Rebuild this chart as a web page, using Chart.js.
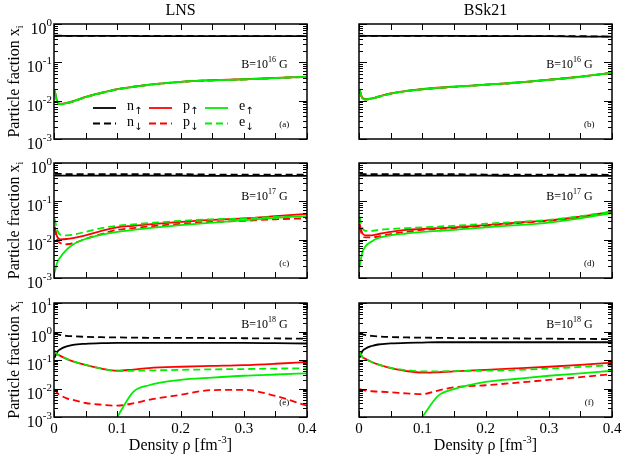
<!DOCTYPE html>
<html>
<head>
<meta charset="utf-8">
<script src="https://cdn.jsdelivr.net/npm/chart.js@4/dist/chart.umd.min.js"></script>
<style>
html, body { margin: 0; padding: 0; background: #fff; }
#wrap { position: relative; width: 623px; height: 461px; }
#wrap canvas { position: absolute; left: 0; top: 0; }
</style>
</head>
<body>
<div id="wrap">
<canvas id="pa" width="623" height="461"></canvas>
<canvas id="pb" width="623" height="461"></canvas>
<canvas id="pc" width="623" height="461"></canvas>
<canvas id="pd" width="623" height="461"></canvas>
<canvas id="pe" width="623" height="461"></canvas>
<canvas id="pf" width="623" height="461"></canvas>
</div>
<script>
// density grid, fm^-3
const rho = [0.001, 0.005, 0.01, 0.02, 0.03, 0.05, 0.075, 0.1, 0.125, 0.15, 0.2, 0.25, 0.3, 0.35, 0.4];

// (a) LNS, B = 1e16 G
const lns16nUp = [0.49, 0.49, 0.49, 0.49, 0.49, 0.49, 0.49, 0.49, 0.49, 0.48, 0.48, 0.48, 0.48, 0.48, 0.48];
const lns16nDn = [0.50, 0.50, 0.50, 0.49, 0.49, 0.49, 0.49, 0.49, 0.49, 0.49, 0.49, 0.48, 0.48, 0.48, 0.48];
const lns16pUp = [0.018, 0.0098, 0.0083, 0.0088, 0.0097, 0.0126, 0.0161, 0.0199, 0.0231, 0.0261, 0.0311, 0.0341, 0.0362, 0.0392, 0.0422];
const lns16pDn = [0.018, 0.0096, 0.0081, 0.0086, 0.0095, 0.0123, 0.0158, 0.0196, 0.0228, 0.0258, 0.0308, 0.0338, 0.0358, 0.0388, 0.0418];
const lns16eUp = [0.017, 0.0094, 0.0080, 0.0086, 0.0095, 0.0124, 0.0159, 0.0197, 0.0229, 0.0259, 0.0309, 0.0339, 0.0359, 0.0389, 0.0419];
const lns16eDn = [0.019, 0.0097, 0.0082, 0.0087, 0.0096, 0.0124, 0.0159, 0.0197, 0.0229, 0.0259, 0.0309, 0.0339, 0.0359, 0.0389, 0.0419];

// (b) BSk21, B = 1e16 G
const bsk16nUp = [0.49, 0.49, 0.49, 0.49, 0.49, 0.49, 0.49, 0.49, 0.49, 0.49, 0.48, 0.48, 0.48, 0.47, 0.47];
const bsk16nDn = [0.50, 0.50, 0.49, 0.49, 0.49, 0.49, 0.49, 0.49, 0.49, 0.49, 0.49, 0.48, 0.48, 0.48, 0.47];
const bsk16pUp = [0.019, 0.0120, 0.0110, 0.0115, 0.0127, 0.0154, 0.0180, 0.0200, 0.0217, 0.0232, 0.0262, 0.0298, 0.0353, 0.0424, 0.0535];
const bsk16pDn = [0.019, 0.0117, 0.0107, 0.0112, 0.0124, 0.0151, 0.0177, 0.0197, 0.0214, 0.0229, 0.0259, 0.0294, 0.0349, 0.0420, 0.0530];
const bsk16eUp = [0.018, 0.0116, 0.0107, 0.0113, 0.0125, 0.0152, 0.0178, 0.0198, 0.0215, 0.0230, 0.0260, 0.0295, 0.0350, 0.0420, 0.0530];
const bsk16eDn = [0.020, 0.0119, 0.0108, 0.0113, 0.0125, 0.0152, 0.0178, 0.0198, 0.0215, 0.0230, 0.0260, 0.0295, 0.0350, 0.0420, 0.0530];

// (c) LNS, B = 1e17 G
const lns17nUp = [0.47, 0.47, 0.47, 0.47, 0.47, 0.47, 0.47, 0.47, 0.47, 0.47, 0.47, 0.46, 0.46, 0.46, 0.46];
const lns17nDn = [0.52, 0.52, 0.52, 0.51, 0.51, 0.51, 0.51, 0.51, 0.51, 0.51, 0.51, 0.50, 0.50, 0.50, 0.50];
const lns17pUp = [0.022, 0.012, 0.0102, 0.0104, 0.011, 0.013, 0.017, 0.021, 0.023, 0.025, 0.029, 0.033, 0.036, 0.041, 0.047];
const lns17pDn = [0.020, 0.010, 0.0082, 0.0076, 0.008, 0.0105, 0.014, 0.018, 0.020, 0.022, 0.026, 0.029, 0.031, 0.034, 0.036];
const lns17eUp = [0.0014, 0.0025, 0.0035, 0.0055, 0.0075, 0.0105, 0.0135, 0.016, 0.018, 0.020, 0.024, 0.028, 0.032, 0.037, 0.041];
const lns17eDn = [0.035, 0.018, 0.0135, 0.013, 0.0135, 0.016, 0.020, 0.023, 0.025, 0.027, 0.031, 0.034, 0.036, 0.039, 0.041];

// (d) BSk21, B = 1e17 G
const bsk17nUp = [0.47, 0.47, 0.47, 0.47, 0.47, 0.47, 0.47, 0.47, 0.47, 0.47, 0.47, 0.46, 0.46, 0.46, 0.46];
const bsk17nDn = [0.52, 0.52, 0.51, 0.51, 0.51, 0.51, 0.51, 0.51, 0.51, 0.51, 0.50, 0.50, 0.50, 0.50, 0.49];
const bsk17pUp = [0.026, 0.015, 0.013, 0.013, 0.014, 0.016, 0.018, 0.019, 0.020, 0.021, 0.024, 0.028, 0.032, 0.040, 0.054];
const bsk17pDn = [0.022, 0.013, 0.0115, 0.0115, 0.012, 0.014, 0.016, 0.018, 0.019, 0.020, 0.023, 0.027, 0.031, 0.039, 0.052];
const bsk17eUp = [0.002, 0.0045, 0.0066, 0.009, 0.011, 0.013, 0.0145, 0.016, 0.017, 0.018, 0.021, 0.024, 0.028, 0.036, 0.049];
const bsk17eDn = [0.040, 0.021, 0.017, 0.017, 0.018, 0.019, 0.020, 0.021, 0.022, 0.023, 0.026, 0.029, 0.033, 0.041, 0.054];

// (e) LNS, B = 1e18 G
const lns18nUp = [0.12, 0.19, 0.24, 0.30, 0.34, 0.37, 0.39, 0.40, 0.40, 0.40, 0.40, 0.40, 0.40, 0.39, 0.38];
const lns18nDn = [0.90, 0.80, 0.75, 0.70, 0.68, 0.65, 0.63, 0.62, 0.61, 0.60, 0.60, 0.59, 0.58, 0.57, 0.56];
const lns18pUp = [0.21, 0.16, 0.14, 0.11, 0.09, 0.067, 0.05, 0.042, 0.046, 0.052, 0.058, 0.062, 0.066, 0.074, 0.085];
const lns18pDn = [0.0095, 0.007, 0.0058, 0.0045, 0.004, 0.0031, 0.0027, 0.0025, 0.003, 0.004, 0.006, 0.0088, 0.009, 0.0055, 0.0025];
const lns18eUp = [null, null, null, null, null, null, null, 0.001, 0.0075, 0.013, 0.020, 0.024, 0.028, 0.031, 0.034];
const lns18eDn = [0.21, 0.16, 0.14, 0.11, 0.09, 0.067, 0.05, 0.041, 0.042, 0.043, 0.045, 0.047, 0.048, 0.050, 0.051];

// (f) BSk21, B = 1e18 G
const bsk18nUp = [0.12, 0.20, 0.25, 0.31, 0.35, 0.38, 0.40, 0.41, 0.42, 0.42, 0.42, 0.42, 0.42, 0.42, 0.42];
const bsk18nDn = [0.90, 0.80, 0.75, 0.70, 0.67, 0.64, 0.62, 0.61, 0.60, 0.59, 0.58, 0.57, 0.56, 0.55, 0.54];
const bsk18pUp = [0.19, 0.13, 0.11, 0.085, 0.07, 0.052, 0.041, 0.036, 0.037, 0.040, 0.045, 0.051, 0.058, 0.068, 0.081];
const bsk18pDn = [0.0095, 0.009, 0.0085, 0.008, 0.0078, 0.0074, 0.0067, 0.0063, 0.0085, 0.011, 0.013, 0.016, 0.020, 0.025, 0.032];
const bsk18eUp = [null, null, null, null, null, null, null, 0.001, 0.0055, 0.0095, 0.017, 0.022, 0.028, 0.034, 0.042];
const bsk18eDn = [0.19, 0.13, 0.11, 0.085, 0.07, 0.053, 0.044, 0.040, 0.040, 0.041, 0.042, 0.045, 0.050, 0.057, 0.067];

// axes
const xTickValues = [0, 0.05, 0.1, 0.15, 0.2, 0.25, 0.3, 0.35, 0.4];
const xLabelValues = [0, 0.1, 0.2, 0.3, 0.4];
const xLabels = ['0', '0.1', '0.2', '0.3', '0.4'];
const decadesLow = [-3, -2, -1, 0];
const decadesHigh = [-3, -2, -1, 0, 1];
const mantissas = [1, 2, 3, 4, 5, 6, 7, 8, 9];

const FONT = '"Liberation Serif", "Times New Roman", serif';
const ARROW_FONT = '"DejaVu Sans", sans-serif';
const BLACK = '#000000', RED = '#ff0000', GREEN = '#00ee00';

function pts(vals) {
    return rho.map((r, i) => ({x: r, y: vals[i]}));
}

// first dataset is drawn on top
function series(nUp, nDn, pUp, pDn, eUp, eDn) {
    return [
        {sp: 'e', spin: '↓', row: 1, col: 2, data: pts(eDn), borderColor: GREEN, borderDash: [7, 4]},
        {sp: 'e', spin: '↑', row: 0, col: 2, data: pts(eUp), borderColor: GREEN},
        {sp: 'p', spin: '↓', row: 1, col: 1, data: pts(pDn), borderColor: RED, borderDash: [7, 4]},
        {sp: 'p', spin: '↑', row: 0, col: 1, data: pts(pUp), borderColor: RED},
        {sp: 'n', spin: '↓', row: 1, col: 0, data: pts(nDn), borderColor: BLACK, borderDash: [7, 4]},
        {sp: 'n', spin: '↑', row: 0, col: 0, data: pts(nUp), borderColor: BLACK},
    ];
}

// draws runs of [text, size, dy, family] starting at x
function rich(ctx, x, y, parts, align) {
    const font = p => p[1] + 'px ' + (p[3] || FONT);
    let w = 0;
    parts.forEach(p => { ctx.font = font(p); w += ctx.measureText(p[0]).width; });
    let cx = align === 'right' ? x - w : align === 'center' ? x - w / 2 : x;
    parts.forEach(p => {
        ctx.font = font(p);
        ctx.fillText(p[0], cx, y + (p[2] || 0));
        cx += ctx.measureText(p[0]).width;
    });
}

const framePlugin = {
    id: 'frame',
    afterDraw(chart, args, o) {
        const ctx = chart.ctx;
        const a = chart.chartArea;
        const xs = chart.scales.x, ys = chart.scales.y;
        ctx.save();
        ctx.strokeStyle = '#000';
        ctx.fillStyle = '#000';
        ctx.textBaseline = 'alphabetic';
        ctx.textAlign = 'left';

        // inward ticks on all sides
        ctx.lineWidth = 1;
        ctx.beginPath();
        xTickValues.forEach(v => {
            const px = Math.round(xs.getPixelForValue(v)) + 0.5;
            ctx.moveTo(px, a.bottom); ctx.lineTo(px, a.bottom - 6);
            ctx.moveTo(px, a.top); ctx.lineTo(px, a.top + 6);
        });
        o.decades.forEach(e => {
            mantissas.forEach(m => {
                const v = m * Math.pow(10, e);
                if (v > ys.max * 1.0001) return;
                const py = Math.round(ys.getPixelForValue(v)) + 0.5;
                const len = m === 1 ? 8 : 4;
                ctx.moveTo(a.left, py); ctx.lineTo(a.left + len, py);
                ctx.moveTo(a.right, py); ctx.lineTo(a.right - len, py);
            });
        });
        ctx.stroke();

        ctx.lineWidth = 1.5;
        ctx.strokeRect(a.left, a.top, a.right - a.left, a.bottom - a.top);

        // y tick labels
        if (o.yLabels) {
            o.decades.forEach(e => {
                const py = ys.getPixelForValue(Math.pow(10, e));
                rich(ctx, a.left - 2, py + 10, [['10', 16], [String(e), 11, -8]], 'right');
            });
        }
        // x tick labels and title
        if (o.xLabels) {
            ctx.font = '15px ' + FONT;
            ctx.textAlign = 'center';
            xLabelValues.forEach((v, i) => ctx.fillText(xLabels[i], xs.getPixelForValue(v), a.bottom + 16));
            ctx.textAlign = 'left';
            rich(ctx, (a.left + a.right) / 2, 450, [['Density ρ [fm', 16], ['-3', 11, -7], [']', 16]], 'center');
        }
        if (o.title) {
            ctx.font = '16px ' + FONT;
            ctx.textAlign = 'center';
            ctx.fillText(o.title, (a.left + a.right) / 2, 15);
            ctx.textAlign = 'left';
        }
        if (o.yTitle) {
            ctx.save();
            ctx.translate(19, (a.top + a.bottom) / 2);
            ctx.rotate(-Math.PI / 2);
            rich(ctx, 0, 0, [[o.yTitle, 16], ['i', 10, 4]], 'center');
            ctx.restore();
        }

        // field label and panel letter
        rich(ctx, xs.getPixelForValue(0.296), ys.getPixelForValue(o.bAt), [['B=10', 12], [o.bExp, 8, -6], [' G', 12]], 'left');
        ctx.font = '9px ' + FONT;
        ctx.textAlign = 'center';
        ctx.fillText(o.tag, xs.getPixelForValue(0.364), a.bottom - 12);
        ctx.textAlign = 'left';

        // legend built from the datasets
        if (o.legend) {
            chart.data.datasets.forEach(ds => {
                const x0 = 93 + ds.col * 56;
                const y0 = 108 + ds.row * 15.5;
                ctx.save();
                ctx.strokeStyle = ds.borderColor;
                ctx.lineWidth = 1.8;
                ctx.setLineDash(ds.borderDash || []);
                ctx.beginPath();
                ctx.moveTo(x0, y0); ctx.lineTo(x0 + 23, y0);
                ctx.stroke();
                ctx.restore();
                rich(ctx, x0 + 34, y0 + 2, [[ds.sp, 14], [ds.spin, 10, 4, ARROW_FONT]], 'left');
            });
        }
        ctx.restore();
    }
};

function makePanel(id, datasets, cfg) {
    const pad = {
        left: cfg.col === 0 ? 54 : 359,
        right: cfg.col === 0 ? 316 : 11,
        top: [24, 163, 303][cfg.row],
        bottom: [322, 183, 44][cfg.row]
    };
    new Chart(id, {
        type: 'line',
        data: {datasets: datasets},
        options: {
            responsive: false,
            animation: false,
            events: [],
            layout: {padding: pad},
            datasets: {line: {fill: false, borderWidth: 1.8, cubicInterpolationMode: 'monotone', pointRadius: 0, spanGaps: false}},
            plugins: {
                legend: {display: false},
                tooltip: {enabled: false},
                frame: {
                    decades: cfg.row === 2 ? decadesHigh : decadesLow,
                    yLabels: cfg.col === 0,
                    xLabels: cfg.row === 2,
                    title: cfg.title,
                    yTitle: cfg.yTitle,
                    bExp: cfg.bExp,
                    bAt: cfg.bAt,
                    tag: cfg.tag,
                    legend: cfg.legend
                }
            },
            scales: {
                x: {type: 'linear', min: 0, max: 0.4, display: false},
                y: {type: 'logarithmic', min: 1e-3, max: cfg.row === 2 ? 10 : 1, display: false}
            }
        },
        plugins: [framePlugin]
    });
}

makePanel('pa', series(lns16nUp, lns16nDn, lns16pUp, lns16pDn, lns16eUp, lns16eDn),
    {row: 0, col: 0, title: 'LNS', yTitle: 'Particle faction x', bExp: '16', bAt: 0.071, tag: '(a)', legend: true});
makePanel('pb', series(bsk16nUp, bsk16nDn, bsk16pUp, bsk16pDn, bsk16eUp, bsk16eDn),
    {row: 0, col: 1, title: 'BSk21', bExp: '16', bAt: 0.071, tag: '(b)'});
makePanel('pc', series(lns17nUp, lns17nDn, lns17pUp, lns17pDn, lns17eUp, lns17eDn),
    {row: 1, col: 0, yTitle: 'Particle fraction x', bExp: '17', bAt: 0.108, tag: '(c)'});
makePanel('pd', series(bsk17nUp, bsk17nDn, bsk17pUp, bsk17pDn, bsk17eUp, bsk17eDn),
    {row: 1, col: 1, bExp: '17', bAt: 0.108, tag: '(d)'});
makePanel('pe', series(lns18nUp, lns18nDn, lns18pUp, lns18pDn, lns18eUp, lns18eDn),
    {row: 2, col: 0, yTitle: 'Particle fraction x', bExp: '18', bAt: 1.32, tag: '(e)'});
makePanel('pf', series(bsk18nUp, bsk18nDn, bsk18pUp, bsk18pDn, bsk18eUp, bsk18eDn),
    {row: 2, col: 1, bExp: '18', bAt: 1.32, tag: '(f)'});
</script>
</body>
</html>
